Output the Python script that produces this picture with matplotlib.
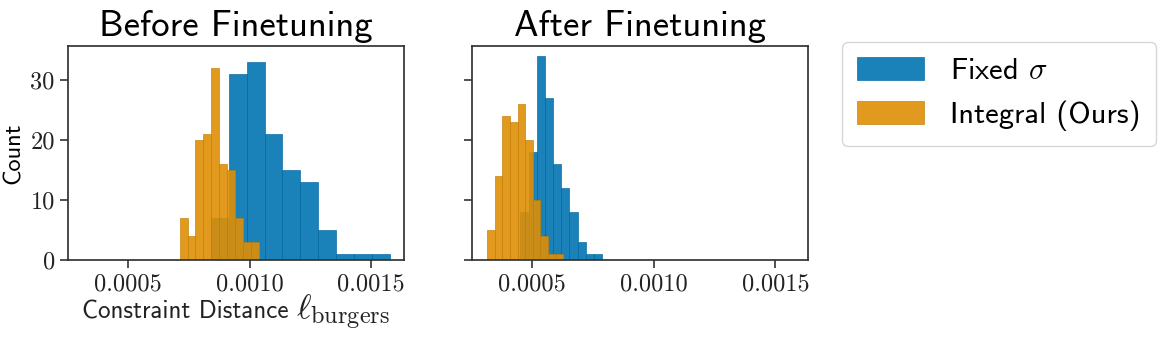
#!/usr/bin/python
# encoding:utf-8
"""
Constraint distance histograms before / after finetuning
"""

import numpy as np
import matplotlib
matplotlib.use('Agg')
import matplotlib.pyplot as plt
from matplotlib import rcParams
from matplotlib.patches import Patch
from matplotlib.ticker import FormatStrFormatter
from matplotlib.offsetbox import TextArea, HPacker, AnchoredOffsetbox

rcParams['font.family'] = 'cmss10'
rcParams['mathtext.fontset'] = 'cm'
rcParams['axes.unicode_minus'] = False

labels = [u"Fixed $\\sigma$", u"Integral (Ours)"]
colors = ['#0173B2', '#DE8F05']
panel_titles = [u"Before Finetuning", u"After Finetuning"]

# before finetuning: bin range and counts (10 bins each)
before_fixed_range = (0.0008406, 0.0015768)
before_fixed_counts = [7, 31, 33, 21, 15, 13, 5, 1, 1, 1]
before_integral_range = (0.0007115, 0.0010384)
before_integral_counts = [7, 4, 20, 21, 32, 16, 15, 7, 3, 3]

# after finetuning
after_fixed_range = (0.000452, 0.0007877)
after_fixed_counts = [8, 18, 34, 27, 16, 12, 8, 3, 1, 1]
after_integral_range = (0.0003151, 0.0006288)
after_integral_counts = [5, 14, 24, 23, 26, 20, 10, 4, 1, 1]

x_ticks = [0.0005, 0.0010, 0.0015]
y_ticks = [0, 10, 20, 30]


def darker(c, f=0.88):
    rgb = np.array(matplotlib.colors.to_rgb(c))
    return tuple(rgb * f)


def draw_hist(ax, rng, counts, color):
    edges = np.linspace(rng[0], rng[1], len(counts) + 1)
    ax.hist(edges[:-1], bins=edges, weights=counts, color=color, alpha=0.9,
            edgecolor=darker(color), linewidth=0.5)


def draw():
    fig = plt.figure(figsize=(11.63, 3.38), dpi=100)
    ax1 = fig.add_axes([0.0585, 0.2308, 0.2889, 0.6331])
    ax2 = fig.add_axes([0.4056, 0.2308, 0.2895, 0.6331], sharex=ax1, sharey=ax1)

    draw_hist(ax1, before_fixed_range, before_fixed_counts, colors[0])
    draw_hist(ax1, before_integral_range, before_integral_counts, colors[1])
    draw_hist(ax2, after_fixed_range, after_fixed_counts, colors[0])
    draw_hist(ax2, after_integral_range, after_integral_counts, colors[1])

    for ax, t in zip([ax1, ax2], panel_titles):
        ax.set_title(t, fontsize=26.5, pad=7)
        ax.set_xticks(x_ticks)
        ax.set_yticks(y_ticks)
        ax.xaxis.set_major_formatter(FormatStrFormatter('%.4f'))
        ax.tick_params(direction='out', length=6, width=1.2, colors='#333333',
                       labelsize=17.5, labelcolor='#222222')
        for lab in ax.get_xticklabels() + ax.get_yticklabels():
            lab.set_fontfamily('cmr10')
        for sp in ax.spines.values():
            sp.set_linewidth(1.25)
            sp.set_color('#333333')

    ax1.set_xlim(0.000252, 0.001636)
    ax1.set_ylim(0, 35.7)
    ax2.tick_params(labelleft=False)

    ax1.set_ylabel(u"Count", fontsize=17.5)

    # x label: sans text + larger math part (like the LaTeX original)
    part1 = TextArea(u"Constraint Distance", textprops=dict(fontsize=18, family='cmss10', color='#222222'))
    part2 = TextArea(u"$\\ell_{\\mathrm{burgers}}$", textprops=dict(fontsize=25, color='#222222'))
    box = HPacker(children=[part1, part2], align="baseline", pad=0, sep=5)
    anchored = AnchoredOffsetbox(loc='upper center', child=box, pad=0, borderpad=0, frameon=False,
                                 bbox_to_anchor=(0.5, -0.152), bbox_transform=ax1.transAxes)
    ax1.add_artist(anchored)

    handles = [Patch(facecolor=c, edgecolor=darker(c), alpha=0.9, linewidth=0.5) for c in colors]
    leg = fig.legend(handles, labels, loc='upper left', bbox_to_anchor=(0.7237, 0.8766),
                     borderaxespad=0, fontsize=22, handlelength=2.2, handleheight=0.8,
                     handletextpad=0.85, labelspacing=0.5, borderpad=0.5, frameon=True)
    leg.get_frame().set_edgecolor('#cccccc')

    plt.savefig('out.png', dpi=100)


def main():
    draw()


if __name__ == '__main__':
    main()
